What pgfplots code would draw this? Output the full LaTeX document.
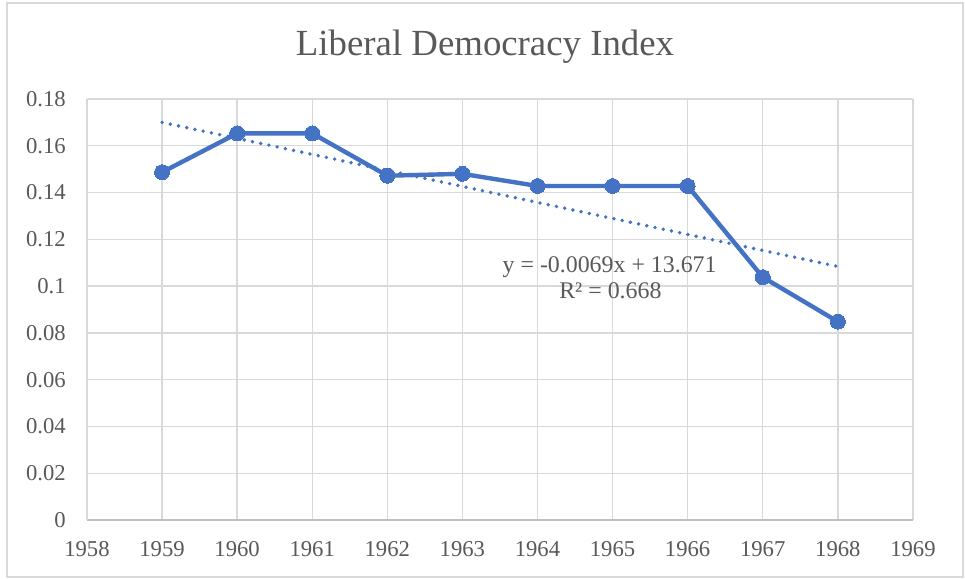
\documentclass[border=0pt]{standalone}
\usepackage{pgfplots}
\pgfplotsset{compat=1.18}
\usepackage{fontspec}
\setmainfont{Liberation Serif}
\definecolor{lineblue}{HTML}{4472C4}
\definecolor{gridc}{HTML}{D9D9D9}
\definecolor{axisc}{HTML}{BFBFBF}
\definecolor{textc}{HTML}{595959}
\begin{document}
\begin{tikzpicture}[x=0.75pt,y=0.75pt]
\fill[white] (0,0) rectangle (965,579);
\draw[gridc, line width=1pt] (7,2) rectangle (963,576);
\node[anchor=base, text=textc, font=\fontsize{27.6}{32}\selectfont, inner sep=0pt] at (485,523) {Liberal Democracy Index};
\begin{axis}[
  at={(87*0.75pt,59*0.75pt)}, anchor=south west,
  scale only axis, width=619.5pt, height=315.75pt,
  xmin=1958, xmax=1969, ymin=0, ymax=0.18,
  xtick={1958,1959,...,1969},
  xticklabels={1958,1959,1960,1961,1962,1963,1964,1965,1966,1967,1968,1969},
  ytick={0,0.02,0.04,0.06,0.08,0.1,0.12,0.14,0.16,0.18},
  yticklabels={0,0.02,0.04,0.06,0.08,0.1,0.12,0.14,0.16,0.18},
  scaled y ticks=false,
  major tick length=0pt,
  grid=major,
  major grid style={draw=gridc, line width=1pt},
  axis x line=bottom, axis y line=left,
  x axis line style={draw=axisc, line width=1.2pt, -},
  y axis line style={draw=gridc, line width=1pt, -},
  tick label style={text=textc, font=\fontsize{17}{20}\selectfont, inner sep=0pt},
  yticklabel style={anchor=east, xshift=-15.75pt},
  xticklabel style={anchor=north, yshift=-16pt},
  clip=false,
]
\addplot[lineblue, line width=2.9pt, line cap=round, dash pattern=on 0pt off 6.3pt] coordinates {(1959,0.1700) (1968,0.1084)};
\addplot[lineblue, line width=3.3pt, line join=round, mark=*, mark size=5.6pt, mark options={fill=lineblue, draw=lineblue, line width=0pt}] coordinates {
(1959,0.1487) (1960,0.1653) (1961,0.1653) (1962,0.1472) (1963,0.1480)
(1964,0.1428) (1965,0.1428) (1966,0.1428) (1967,0.1038) (1968,0.0848)};
\node[anchor=base, text=textc, font=\fontsize{17.9}{20}\selectfont, inner sep=0pt] at (axis cs:1964.96,0.1060) {y = -0.0069x + 13.671};
\node[anchor=base, text=textc, font=\fontsize{17.9}{20}\selectfont, inner sep=0pt] at (axis cs:1964.97,0.0949) {R² = 0.668};
\end{axis}
\end{tikzpicture}
\end{document}
